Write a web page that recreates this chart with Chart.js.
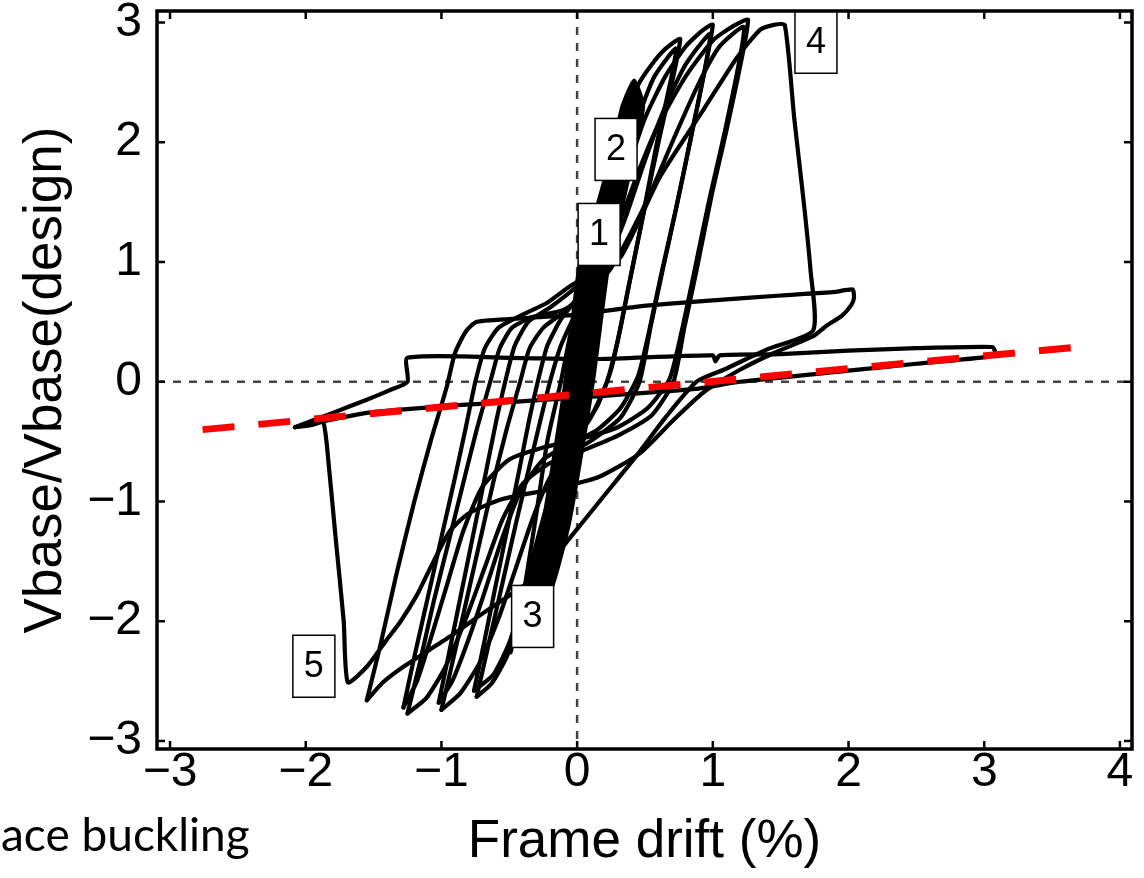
<!DOCTYPE html>
<html><head><meta charset="utf-8">
<script src="https://cdn.jsdelivr.net/npm/chart.js@4"></script>
<style>
html,body{margin:0;padding:0;background:#fff;}
#wrap{position:relative;width:1144px;height:878px;overflow:hidden;background:#fff;}
canvas{position:absolute;left:0;top:0;}
#note{position:absolute;left:1px;top:811px;font-family:Lato,"Open Sans",sans-serif;font-size:46px;color:#000;white-space:nowrap;line-height:1;}
</style></head><body>
<div id="wrap"><canvas id="c" width="1144" height="878"></canvas><div id="note">ace buckling</div></div>
<script>
// ---- tick values ----
const xTickValues = [-3, -2, -1, 0, 1, 2, 3, 4];
const yTickValues = [-3, -2, -1, 0, 1, 2, 3];

// ---- hysteresis strokes: [drift %, Vbase/Vbase(design)] ----
const elasticBand = [[-0.40,-1.95],[-0.37,-1.71],[-0.25,-1.15],[-0.09,0.0],[0.02,1.02],[0.15,1.49],[0.27,2.0],[0.33,2.3],[0.42,2.52],
  [0.49,2.3],[0.42,1.9],[0.34,1.49],[0.24,1.02],[0.12,0.0],[-0.05,-1.15],[-0.18,-1.71],[-0.32,-2.0]];
const cycle1 = [[-0.49,-2.26],[-0.4,-1.8],[-0.3,-1.1],[-0.22,-0.5],[-0.12,0.0],[-0.04,0.45],[0.05,0.85],[0.15,1.3],[0.25,1.8],[0.35,2.2],[0.45,2.48],[0.55,2.65],[0.65,2.78],[0.76,2.86],
  [0.60,2.0],[0.47,1.3],[0.38,0.8],[0.3,0.35],[0.22,0.0],[0.1,-0.3],[-0.02,-0.5],[-0.12,-0.75],[-0.22,-1.1],[-0.32,-1.55],[-0.42,-1.98],[-0.52,-2.3],[-0.63,-2.52],[-0.74,-2.63]];
const cycle1b = [[-0.74,-2.63],[-0.65,-2.18],[-0.55,-1.68],[-0.45,-1.18],[-0.35,-0.7],[-0.27,-0.32],[-0.2,0.0],[-0.12,0.3],[-0.02,0.55],[0.1,0.85],[0.22,1.25],[0.33,1.75],[0.45,2.2],[0.57,2.55],[0.73,2.78],
  [0.58,1.95],[0.47,1.3],[0.39,0.85],[0.32,0.45],[0.25,0.1],[0.15,-0.2],[0.02,-0.42],[-0.1,-0.62],[-0.2,-0.95],[-0.3,-1.35],[-0.4,-1.8],[-0.5,-2.18],[-0.62,-2.45],[-0.76,-2.58]];
const cycle2 = [[-0.76,-2.58],[-0.68,-2.15],[-0.6,-1.7],[-0.5,-1.15],[-0.42,-0.7],[-0.35,-0.3],[-0.29,0.0],[-0.22,0.3],[-0.12,0.52],[0.0,0.7],[0.1,0.95],[0.22,1.25],[0.35,1.7],[0.5,2.2],[0.65,2.55],[0.8,2.8],[0.92,2.93],[1.0,2.98],
  [0.85,2.1],[0.73,1.45],[0.63,0.93],[0.54,0.45],[0.46,0.0],[0.32,-0.3],[0.12,-0.48],[-0.05,-0.6],[-0.2,-0.8],[-0.33,-1.15],[-0.45,-1.55],[-0.58,-1.98],[-0.72,-2.35],[-0.86,-2.6],[-1.0,-2.74]];
const cycle2b = [[-1.0,-2.74],[-0.92,-2.35],[-0.83,-1.9],[-0.73,-1.4],[-0.62,-0.85],[-0.52,-0.4],[-0.42,0.0],[-0.35,0.28],[-0.25,0.45],[-0.1,0.58],[0.05,0.75],[0.2,0.95],[0.35,1.35],[0.5,1.85],[0.65,2.3],[0.8,2.65],[0.98,2.9],
  [0.84,2.05],[0.72,1.4],[0.62,0.9],[0.53,0.42],[0.45,0.05],[0.32,-0.22],[0.15,-0.4],[-0.05,-0.52],[-0.25,-0.65],[-0.42,-0.92],[-0.55,-1.3],[-0.68,-1.75],[-0.8,-2.15],[-0.92,-2.5],[-1.02,-2.68]];
const cycle3 = [[-1.02,-2.68],[-0.95,-2.3],[-0.86,-1.8],[-0.77,-1.3],[-0.68,-0.8],[-0.6,-0.35],[-0.53,0.0],[-0.46,0.3],[-0.36,0.5],[-0.2,0.62],[0.0,0.8],[0.15,1.0],[0.3,1.3],[0.45,1.75],[0.6,2.15],[0.8,2.55],[1.0,2.85],[1.15,2.97],[1.26,3.02],
  [1.12,2.2],[0.99,1.55],[0.88,0.93],[0.79,0.45],[0.71,0.0],[0.55,-0.28],[0.3,-0.45],[0.05,-0.57],[-0.2,-0.68],[-0.4,-0.85],[-0.55,-1.15],[-0.68,-1.55],[-0.82,-1.98],[-0.97,-2.38],[-1.11,-2.64],[-1.25,-2.77]];
const cycle3b = [[-1.25,-2.77],[-1.16,-2.35],[-1.06,-1.85],[-0.95,-1.35],[-0.84,-0.85],[-0.74,-0.4],[-0.64,0.0],[-0.57,0.28],[-0.48,0.45],[-0.33,0.54],[-0.1,0.6],[0.1,0.75],[0.25,0.95],[0.4,1.25],[0.55,1.6],[0.72,2.05],[0.9,2.5],[1.05,2.8],[1.23,2.96],
  [1.1,2.15],[0.97,1.5],[0.86,0.9],[0.77,0.42],[0.68,0.02],[0.52,-0.22],[0.3,-0.38],[0.05,-0.47],[-0.25,-0.55],[-0.5,-0.65],[-0.7,-0.88],[-0.84,-1.25],[-0.96,-1.7],[-1.08,-2.15],[-1.18,-2.5],[-1.28,-2.72]];
const cycle4 = [[-1.28,-2.72],[-1.2,-2.3],[-1.1,-1.8],[-1.0,-1.3],[-0.9,-0.8],[-0.82,-0.38],[-0.75,0.0],[-0.68,0.28],[-0.58,0.45],[-0.42,0.55],[-0.22,0.66],[-0.05,0.8],[0.15,0.93],[0.32,1.04],[0.61,1.71],[0.93,2.27],[1.18,2.71],[1.35,2.94],[1.45,2.98],[1.53,2.98],
  [1.6,2.2],[1.67,1.5],[1.72,0.93],[1.74,0.43],
  [1.4,0.27],[1.08,0.1],[0.88,0.0],[0.65,-0.3],[0.45,-0.6],[0.2,-0.95],[-0.05,-1.3],[-0.27,-1.6],[-0.69,-1.93],[-0.94,-2.13],[-1.28,-2.38],[-1.43,-2.51],[-1.55,-2.66]];
const cycle5 = [[-1.55,-2.66],[-1.45,-2.2],[-1.33,-1.6],[-1.2,-1.0],[-1.08,-0.5],[-0.96,-0.04],[-0.9,0.24],[-0.82,0.42],[-0.74,0.5],[-0.4,0.53],[0.0,0.56],[0.46,0.63],[1.0,0.68],[1.5,0.72],[1.9,0.75],[2.03,0.77],
  [2.04,0.7],[2.02,0.64],[1.95,0.55],[1.84,0.47],[1.74,0.38],[1.45,0.24],[1.2,0.1],[0.93,-0.09],[0.71,-0.32],[0.46,-0.6],[0.15,-0.8],[-0.2,-0.9],[-0.55,-0.98],[-0.8,-1.1],[-0.94,-1.25],[-1.08,-1.55],[-1.18,-1.78],[-1.3,-2.0],[-1.4,-2.15],[-1.55,-2.38],[-1.69,-2.51],
  [-1.72,-2.0],[-1.78,-1.3],[-1.83,-0.7],[-1.87,-0.34],[-1.95,-0.36],[-2.08,-0.38]];
const cycle6 = [[-2.08,-0.38],[-1.8,-0.26],[-1.55,-0.15],[-1.38,-0.07],[-1.25,0.0],[-1.25,0.2],[-0.5,0.2],[0.17,0.19],[1.0,0.22],[1.02,0.17],[1.05,0.22],[1.5,0.23],[2.0,0.26],[2.5,0.28],[3.06,0.29],
  [3.08,0.25],[3.03,0.21],[2.5,0.15],[1.98,0.09],[1.2,0.0],[0.87,-0.06],[0.17,-0.12],[-0.5,-0.17],[-0.94,-0.2],[-1.55,-0.26],[-2.08,-0.38]];
const redFitX = [-2.76, 3.69];
const redFitY = [-0.40, 0.29];

// ---- annotation boxes ----
const boxLabels = ['1', '2', '3', '4', '5'];
const boxX = [0.162, 0.287, -0.328, 1.76, -1.94];
const boxY = [1.23, 1.94, -1.96, 2.835, -2.376];

const FONT = '"Liberation Sans", Arial, Helvetica, sans-serif';
const toXY = arr => arr.map(p => ({x: p[0], y: p[1]}));
const fmt = v => (v < 0 ? '\u2212' + Math.abs(v) : String(v));

const blackLine = (arr) => ({data: toXY(arr), showLine: true, borderColor: '#000', borderWidth: 4.2, pointRadius: 0, tension: 0.2, fill: false, order: 1, borderJoinStyle: 'round', borderCapStyle: 'round'});

const decor = {
  id: 'decor',
  beforeDatasetsDraw(chart) {
    const {ctx, chartArea: a, scales: {x, y}} = chart;
    ctx.save();
    ctx.strokeStyle = '#444';
    ctx.lineWidth = 2.5;
    ctx.setLineDash([8, 8]);
    const x0 = x.getPixelForValue(0), y0 = y.getPixelForValue(0);
    ctx.beginPath(); ctx.moveTo(a.left, y0); ctx.lineTo(a.right, y0); ctx.stroke();
    ctx.beginPath(); ctx.moveTo(x0, a.top); ctx.lineTo(x0, a.bottom); ctx.stroke();
    ctx.restore();
  },
  afterDatasetsDraw(chart) {
    const {ctx, chartArea: a, scales: {x, y}} = chart;
    ctx.save();
    const bw = 42, bh = 62;
    boxLabels.forEach((t, i) => {
      const px = x.getPixelForValue(boxX[i]), py = y.getPixelForValue(boxY[i]);
      ctx.fillStyle = '#fff';
      ctx.fillRect(px - bw / 2, py - bh / 2, bw, bh);
      ctx.strokeStyle = '#000'; ctx.lineWidth = 1.5;
      ctx.strokeRect(px - bw / 2, py - bh / 2, bw, bh);
      ctx.fillStyle = '#000';
      ctx.font = '36px ' + FONT;
      ctx.textAlign = 'center'; ctx.textBaseline = 'middle';
      ctx.fillText(t, px, py + 1);
    });
    ctx.strokeStyle = '#000'; ctx.lineWidth = 3.5;
    ctx.strokeRect(a.left, a.top, a.right - a.left, a.bottom - a.top);
    const tl = 8;
    ctx.lineWidth = 2.5;
    xTickValues.forEach(v => {
      const px = x.getPixelForValue(v);
      ctx.beginPath(); ctx.moveTo(px, a.bottom); ctx.lineTo(px, a.bottom - tl); ctx.stroke();
      ctx.beginPath(); ctx.moveTo(px, a.top); ctx.lineTo(px, a.top + tl); ctx.stroke();
    });
    yTickValues.forEach(v => {
      const py = y.getPixelForValue(v);
      ctx.beginPath(); ctx.moveTo(a.left, py); ctx.lineTo(a.left + tl, py); ctx.stroke();
      ctx.beginPath(); ctx.moveTo(a.right, py); ctx.lineTo(a.right - tl, py); ctx.stroke();
    });
    ctx.restore();
  }
};

new Chart(document.getElementById('c'), {
  type: 'scatter',
  data: {
    datasets: [
      {data: redFitX.map((v, i) => ({x: v, y: redFitY[i]})), showLine: true, borderColor: '#ff0000', borderWidth: 7, borderDash: [32, 24], pointRadius: 0, order: 0, borderCapStyle: 'butt'},
      blackLine(cycle1), blackLine(cycle1b), blackLine(cycle2), blackLine(cycle2b), blackLine(cycle3), blackLine(cycle3b),
      blackLine(cycle4), blackLine(cycle5), blackLine(cycle6),
      {data: toXY(elasticBand), showLine: true, borderColor: '#000', backgroundColor: '#000', borderWidth: 3, pointRadius: 0, tension: 0.2, fill: 'shape', order: 2}
    ]
  },
  options: {
    responsive: false,
    devicePixelRatio: 1,
    animation: false,
    layout: {padding: {left: 0, right: 12, top: 11, bottom: 0}, autoPadding: false},
    plugins: {legend: {display: false}, tooltip: {enabled: false}},
    scales: {
      x: {
        type: 'linear', min: -3.096, max: 4.089,
        afterBuildTicks: s => { s.ticks = xTickValues.map(v => ({value: v})); },
        afterFit: s => { s.height = 129; s.paddingLeft = 0; s.paddingRight = 0; },
        grid: {display: false, drawTicks: false},
        border: {display: false},
        ticks: {autoSkip: false, maxRotation: 0, minRotation: 0, padding: 0, color: '#000', font: {family: FONT, size: 48, lineHeight: 1}, callback: fmt},
        title: {display: true, text: 'Frame drift (%)', color: '#000', font: {family: FONT, size: 53, lineHeight: 1}, padding: {top: 0, bottom: 9}}
      },
      y: {
        type: 'linear', min: -3.067, max: 3.096,
        afterBuildTicks: s => { s.ticks = yTickValues.map(v => ({value: v})); },
        afterFit: s => { s.width = 157; s.paddingTop = 0; s.paddingBottom = 0; },
        grid: {display: false, drawTicks: false},
        border: {display: false},
        ticks: {autoSkip: false, padding: 15, color: '#000', font: {family: FONT, size: 48, lineHeight: 1}, callback: fmt},
        title: {display: true, text: 'Vbase/Vbase(design)', color: '#000', font: {family: FONT, size: 53, lineHeight: 1}, padding: {top: 20, bottom: 0}}
      }
    }
  },
  plugins: [decor]
});
</script></body></html>
